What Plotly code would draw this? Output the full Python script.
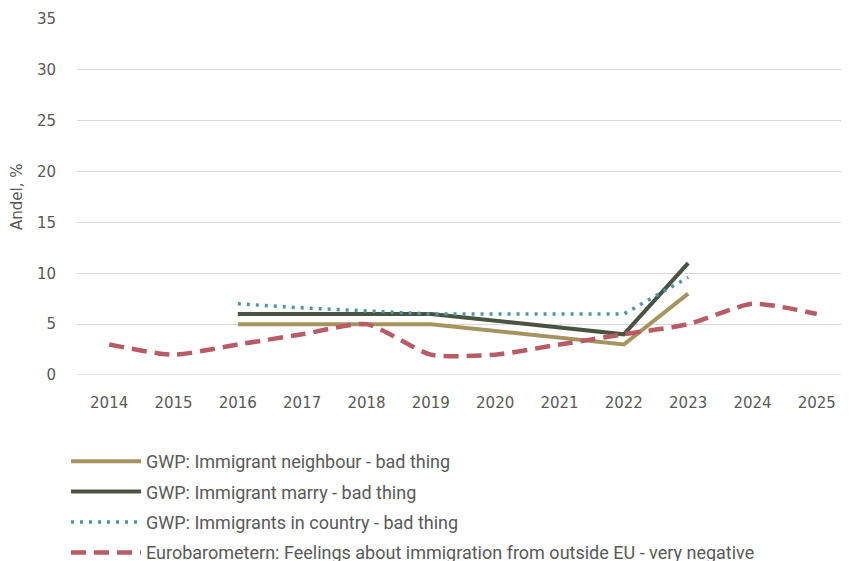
import plotly.graph_objects as go

years = ["2014", "2015", "2016", "2017", "2018", "2019", "2020", "2021", "2022", "2023", "2024", "2025"]
neighbour = [None, None, 5, 5, 5, 5, None, None, 3, 8, None, None]
marry = [None, None, 6, 6, 6, 6, None, None, 4, 11, None, None]
in_country = [None, None, 7, 6.6, 6.3, 6, 6, 6, 6, 9.6, None, None]
eurobarometer = [3, 2, 3, 4, 5, 2, 2, 3, 4, 5, 7, 6]

names = [
    "GWP: Immigrant neighbour - bad thing",
    "GWP: Immigrant marry - bad thing",
    "GWP: Immigrants in country - bad thing",
    "Eurobarometern: Feelings about immigration from outside EU - very negative",
]

LEGFONT = "Roboto, Liberation Sans, sans-serif"
TICKFONT = "DejaVu Sans, sans-serif"
TXT = "#595959"

# the page body adds an 8px offset; figure sized to fill the 849x561 window
W, H = 841, 553

fig = go.Figure()
fig.add_trace(go.Scatter(x=years, y=neighbour, name=names[0], mode="lines", connectgaps=True,
                         line=dict(color="#A69460", width=4), legendgroup="a"))
fig.add_trace(go.Scatter(x=years, y=marry, name=names[1], mode="lines", connectgaps=True,
                         line=dict(color="#4A5240", width=4), legendgroup="b"))
fig.add_trace(go.Scatter(x=years, y=in_country, name=names[2], mode="lines", connectgaps=True,
                         line=dict(color="#4B97A6", width=3.5, dash="3px,6px"), legendgroup="c"))
fig.add_trace(go.Scatter(x=years, y=eurobarometer, name=names[3], mode="lines",
                         line=dict(color="#B95B64", width=4.5, dash="15px,8px", shape="spline", smoothing=0.6),
                         legendgroup="d"))

fig.update_layout(
    width=W, height=H,
    margin=dict(l=69, r=0, t=11, b=186, autoexpand=False),
    paper_bgcolor="white", plot_bgcolor="white",
    font=dict(family=TICKFONT, color=TXT, size=15),
    showlegend=True,
    legend=dict(xref="container", yref="container", x=58 / W, y=1 - 435 / H, xanchor="left", yanchor="top",
                orientation="v", itemwidth=70,
                font=dict(family=LEGFONT, size=18, color=TXT), tracegroupgap=4,
                bgcolor="rgba(0,0,0,0)"),
    xaxis=dict(type="category", range=[-0.5, 11.5], showgrid=False, showline=False,
               ticks="", tickfont=dict(family=TICKFONT, size=15, color=TXT),
               ticklabelstandoff=17, fixedrange=True, automargin=False),
    yaxis=dict(range=[0, 35], dtick=5, showgrid=True, gridcolor="#D9D9D9", gridwidth=1.3,
               zeroline=False, showline=False, ticks="", automargin=False,
               tickfont=dict(family=TICKFONT, size=15, color=TXT),
               ticklabelstandoff=20),
    annotations=[dict(text="Andel, %", xref="paper", yref="paper", x=(9 - 69) / 772, y=0.5,
                      xanchor="center", yanchor="middle", textangle=-90, showarrow=False,
                      font=dict(family=TICKFONT, size=15, color=TXT))],
)
fig.add_shape(type="line", xref="paper", yref="y", x0=0, x1=1, y0=0, y1=0,
              line=dict(color="#D9D9D9", width=1.3), layer="below")

fig.write_html("out.html")
